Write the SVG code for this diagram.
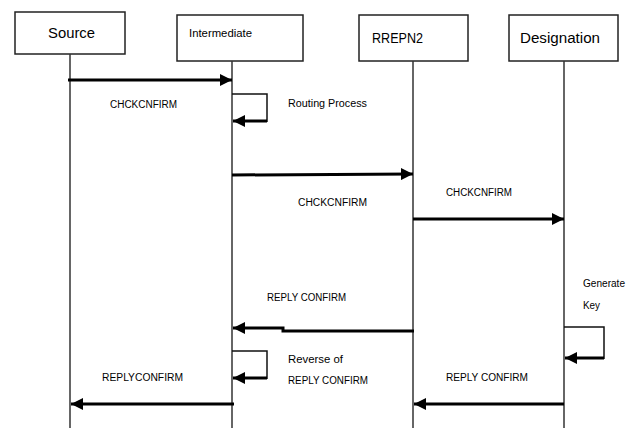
<svg xmlns="http://www.w3.org/2000/svg" width="633" height="428" viewBox="0 0 633 428">
<style>
.box{fill:#fff;stroke:#222;stroke-width:1.5}
.life{stroke:#333;stroke-width:1.5;fill:none}
.msg{stroke:#000;stroke-width:3;fill:none}
.thin{stroke:#111;stroke-width:1.5;fill:none}
.t{font-family:"Liberation Sans",Arial,sans-serif;fill:#000}
.lbl{font-family:"Liberation Sans",Arial,sans-serif;font-size:10px;fill:#000}
</style>
<defs>
<marker id="ah" viewBox="0 0 10 10" refX="10" refY="5" markerWidth="4" markerHeight="4" orient="auto" markerUnits="strokeWidth">
<path d="M0,0 L10,5 L0,10 z" fill="#000"/>
</marker>
</defs>
<rect width="633" height="428" fill="#fff"/>
<g id="node-source">
<rect class="box" x="15" y="12" width="110" height="42"/>
<text class="t" x="48" y="38" font-size="15" textLength="47" lengthAdjust="spacingAndGlyphs">Source</text>
<line class="life" x1="70" y1="54" x2="70" y2="428"/>
</g>
<g id="node-intermediate">
<rect class="box" x="177" y="15" width="126" height="46"/>
<text class="t" x="189" y="37" font-size="10" textLength="63" lengthAdjust="spacingAndGlyphs">Intermediate</text>
<line class="life" x1="232" y1="61" x2="232" y2="428"/>
</g>
<g id="node-rrepn2">
<rect class="box" x="359" y="15" width="109" height="46"/>
<text class="t" x="372" y="43" font-size="14" textLength="51" lengthAdjust="spacingAndGlyphs">RREPN2</text>
<line class="life" x1="413" y1="61" x2="413" y2="428"/>
</g>
<g id="node-designation">
<rect class="box" x="509" y="15" width="109" height="46"/>
<text class="t" x="520" y="43" font-size="14" textLength="80" lengthAdjust="spacingAndGlyphs">Designation</text>
<line class="life" x1="564" y1="61" x2="564" y2="428"/>
</g>
<g id="connectors">
<line class="msg" x1="68" y1="80" x2="232" y2="80" marker-end="url(#ah)"/>
<polyline class="thin" points="232,94 267,94 267,122"/>
<line class="msg" x1="267" y1="121" x2="233" y2="121" marker-end="url(#ah)"/>
<line class="msg" x1="232" y1="175" x2="413" y2="174" marker-end="url(#ah)"/>
<line class="msg" x1="413" y1="219" x2="564" y2="219" marker-end="url(#ah)"/>
<polyline class="thin" points="564,327 604,327 604,359"/>
<line class="msg" x1="604" y1="358" x2="565" y2="358" marker-end="url(#ah)"/>
<polyline class="msg" points="414,331 283,331 283,328 233,328" marker-end="url(#ah)"/>
<polyline class="thin" points="232,351 267,351 267,379"/>
<line class="msg" x1="267" y1="378" x2="233" y2="378" marker-end="url(#ah)"/>
<line class="msg" x1="564" y1="404" x2="414" y2="404" marker-end="url(#ah)"/>
<line class="msg" x1="234" y1="404" x2="71" y2="404" marker-end="url(#ah)"/>
</g>
<g id="labels">
<text class="lbl" x="110" y="107.5" textLength="67" lengthAdjust="spacingAndGlyphs">CHCKCNFIRM</text>
<text class="lbl" x="288" y="106.5" textLength="79" lengthAdjust="spacingAndGlyphs">Routing Process</text>
<text class="lbl" x="298" y="205.5" textLength="69" lengthAdjust="spacingAndGlyphs">CHCKCNFIRM</text>
<text class="lbl" x="446" y="195.5" textLength="66" lengthAdjust="spacingAndGlyphs">CHCKCNFIRM</text>
<text class="lbl" x="583" y="286.5" textLength="42" lengthAdjust="spacingAndGlyphs">Generate</text>
<text class="lbl" x="583" y="308.5" textLength="17" lengthAdjust="spacingAndGlyphs">Key</text>
<text class="lbl" x="267" y="300.5" textLength="79" lengthAdjust="spacingAndGlyphs">REPLY CONFIRM</text>
<text class="lbl" x="288" y="362.5" textLength="55" lengthAdjust="spacingAndGlyphs">Reverse of</text>
<text class="lbl" x="288" y="383.5" textLength="80" lengthAdjust="spacingAndGlyphs">REPLY CONFIRM</text>
<text class="lbl" x="102" y="380.5" textLength="81" lengthAdjust="spacingAndGlyphs">REPLYCONFIRM</text>
<text class="lbl" x="446" y="380.5" textLength="82" lengthAdjust="spacingAndGlyphs">REPLY CONFIRM</text>
</g>
</svg>
